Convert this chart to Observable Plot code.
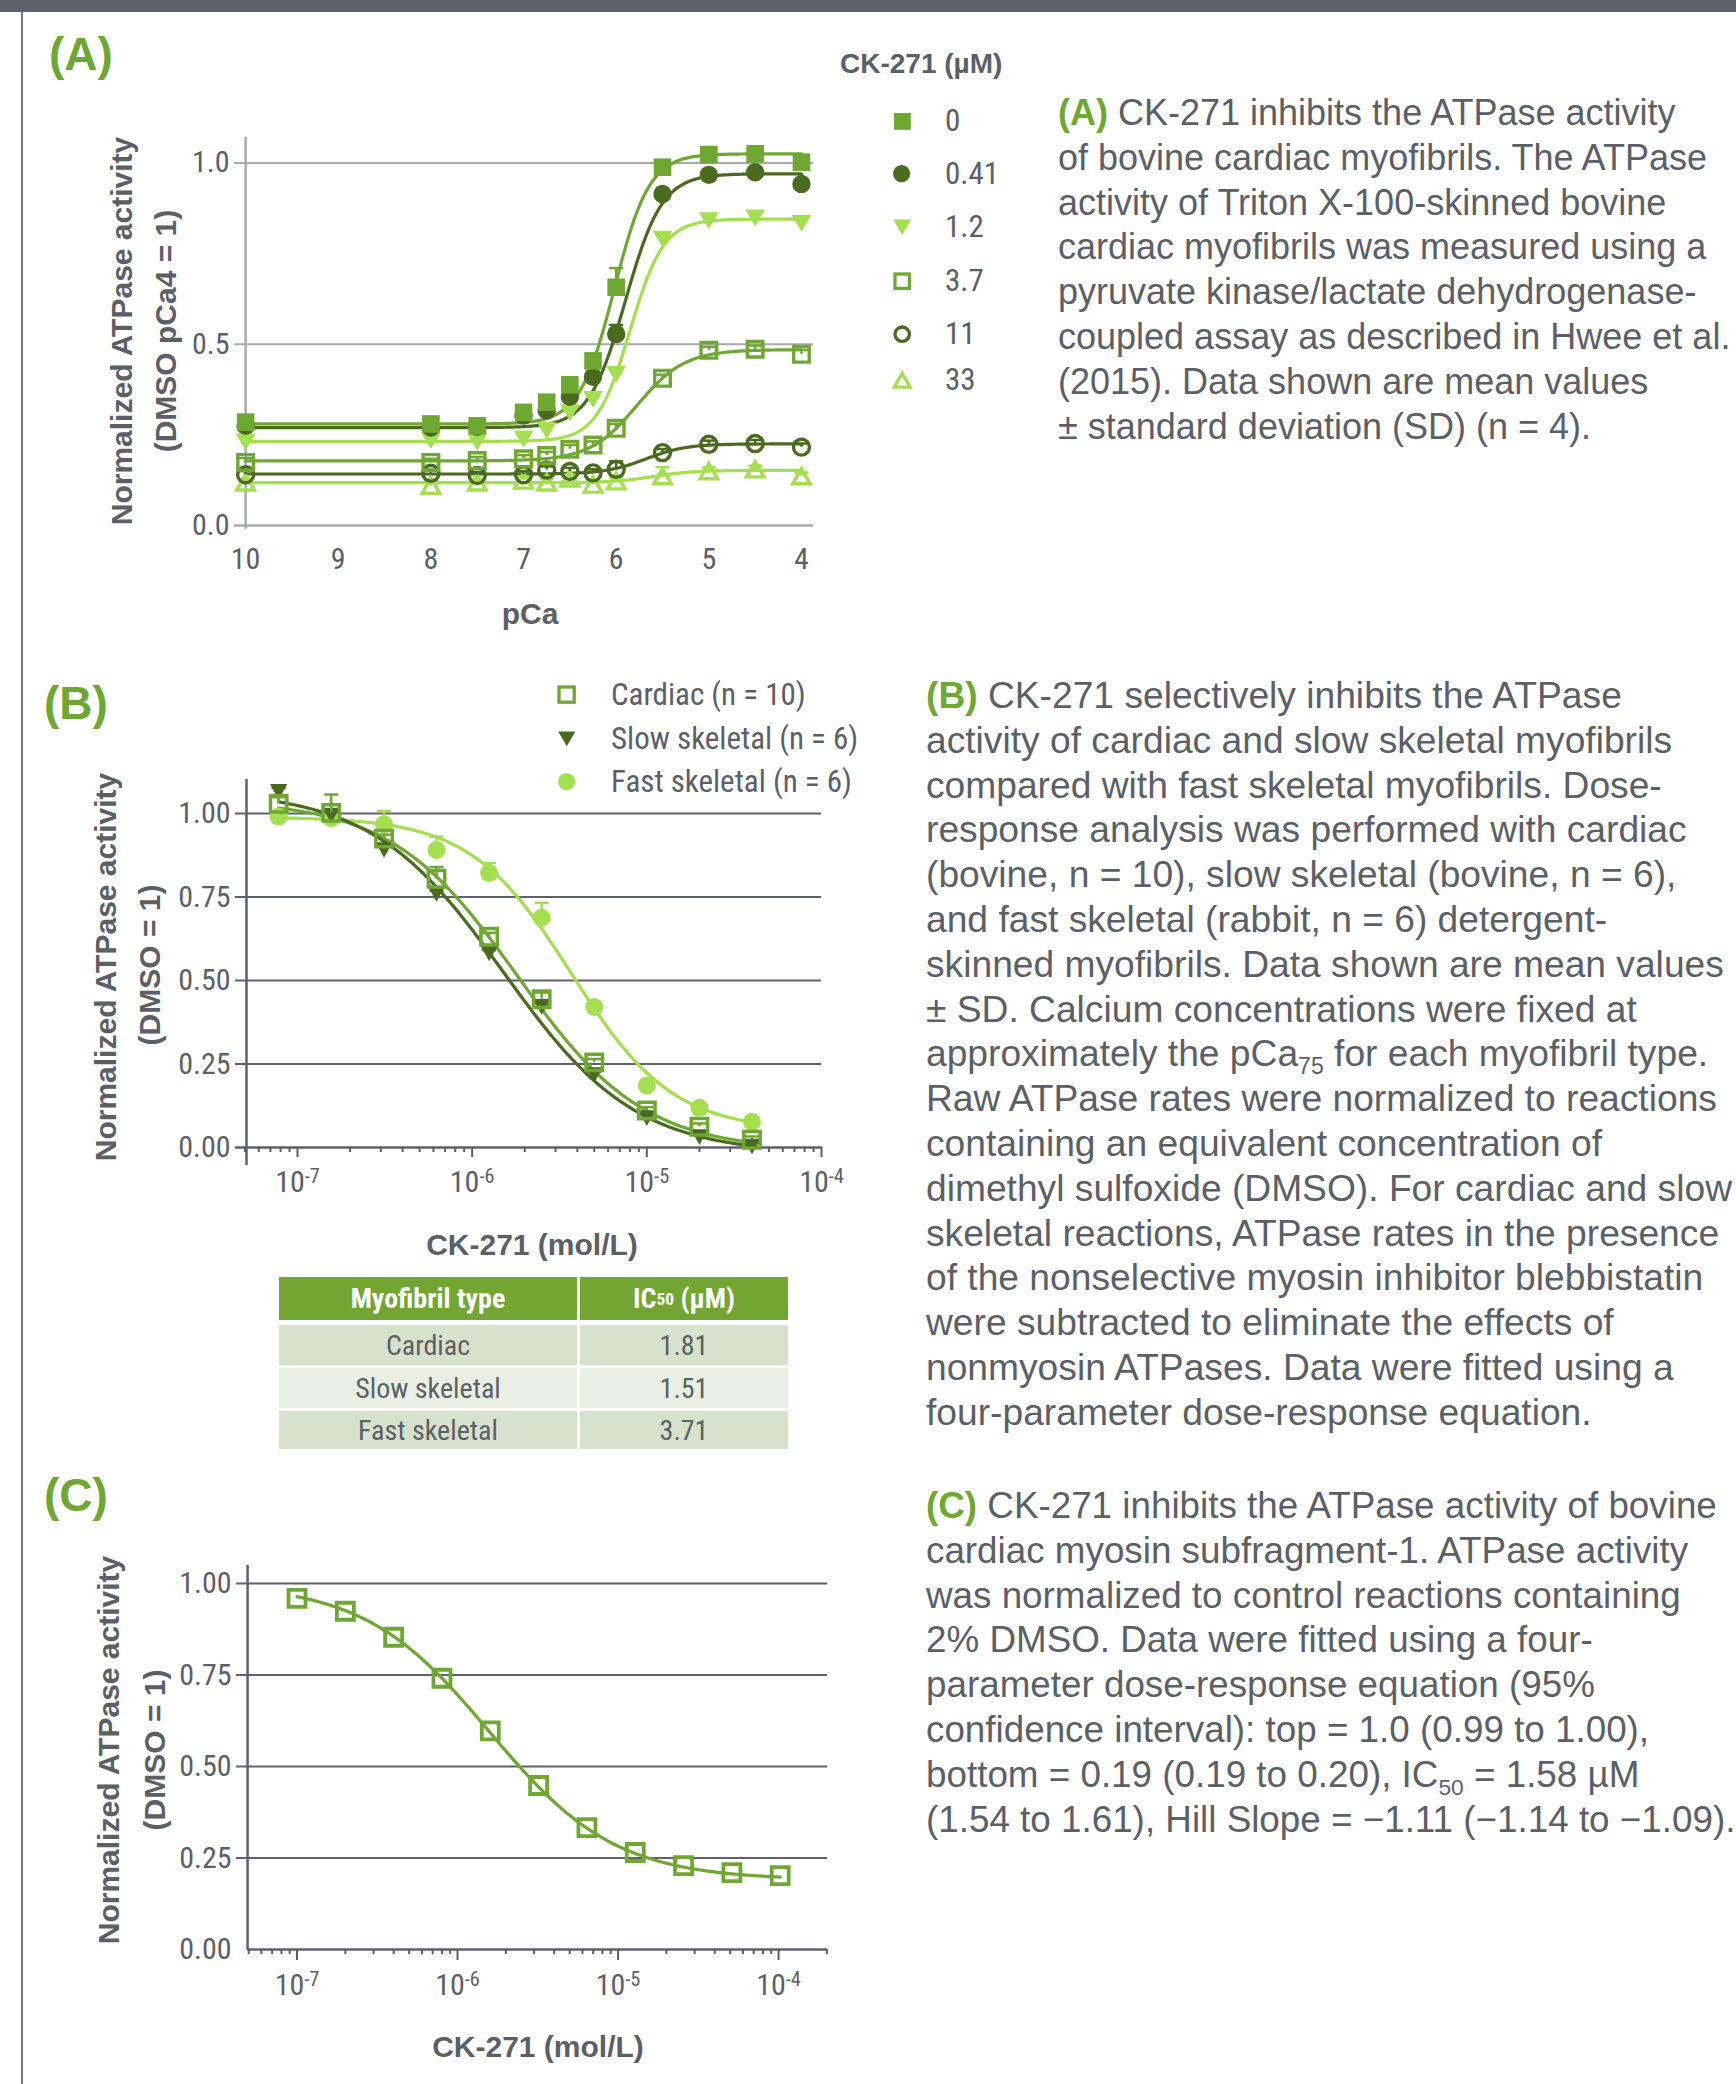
<!DOCTYPE html>
<html><head><meta charset="utf-8">
<script src="https://cdn.jsdelivr.net/npm/d3@7"></script>
<script src="https://cdn.jsdelivr.net/npm/@observablehq/plot@0.6"></script>
<style>
html,body{margin:0;padding:0;background:#fff;}
#page{position:relative;width:1736px;height:2084px;overflow:hidden;background:#fff;font-family:"Liberation Sans",Arial,sans-serif;color:#5c5f66;}
#page > div{position:absolute;}
.narrow{font-family:"Liberation Sans Narrow","Arial Narrow","Roboto Condensed",sans-serif;}
.cap{font-size:36px;line-height:44.8px;white-space:nowrap;}
.cap b{color:#6fa733;}
.plab{font-weight:bold;font-size:46px;line-height:46px;color:#6fa733;}
.atitle{font-weight:bold;font-size:30px;line-height:30px;text-align:center;white-space:nowrap;}
.cell{display:flex;align-items:center;justify-content:center;font-size:28px;white-space:nowrap;}
</style></head>
<body><div id="page"></div>
<script>
// ---------- data: panel A ----------
const pCa = [10, 8, 7.5, 7, 6.75, 6.5, 6.25, 6, 5.5, 5, 4.5, 4];
const concA = ["0", "0.41", "1.2", "3.7", "11", "33"];
const actA_0   = [0.285, 0.280, 0.275, 0.312, 0.340, 0.388, 0.454, 0.657, 0.988, 1.023, 1.025, 1.002];
const actA_041 = [0.275, 0.270, 0.272, 0.303, 0.317, 0.355, 0.410, 0.528, 0.914, 0.967, 0.974, 0.942];
const actA_12  = [0.230, 0.234, 0.230, 0.239, 0.262, 0.311, 0.348, 0.417, 0.790, 0.841, 0.848, 0.833];
const actA_37  = [0.174, 0.174, 0.179, 0.184, 0.193, 0.210, 0.222, 0.268, 0.406, 0.483, 0.486, 0.472];
const actA_11  = [0.140, 0.144, 0.138, 0.140, 0.153, 0.149, 0.145, 0.155, 0.201, 0.224, 0.226, 0.216];
const actA_33  = [0.119, 0.110, 0.119, 0.124, 0.119, 0.130, 0.113, 0.122, 0.136, 0.150, 0.155, 0.136];
const sdA_0    = [0.010, 0.012, 0.010, 0.012, 0.010, 0.015, 0.010, 0.053, 0.010, 0.008, 0.012, 0.010];
const sdA_041  = [0.010, 0.010, 0.010, 0.010, 0.010, 0.012, 0.012, 0.025, 0.010, 0.010, 0.010, 0.010];
const sdA_12   = [0.012, 0.012, 0.010, 0.010, 0.010, 0.010, 0.012, 0.015, 0.010, 0.010, 0.018, 0.010];
const sdA_37   = [0.012, 0.010, 0.010, 0.010, 0.010, 0.012, 0.010, 0.012, 0.010, 0.010, 0.010, 0.012];
const sdA_11   = [0.010, 0.010, 0.010, 0.010, 0.010, 0.010, 0.010, 0.022, 0.010, 0.010, 0.010, 0.010];
const sdA_33   = [0.010, 0.012, 0.010, 0.010, 0.010, 0.010, 0.010, 0.010, 0.025, 0.010, 0.010, 0.010];
// fitted Hill curve parameters
const fitA_pCa50  = [6.02, 5.90, 5.85, 5.774, 5.68, 5.60];
const fitA_hill   = [2.3, 2.2, 2.4, 1.69, 2.0, 2.0];
const fitA_bottom = [0.280, 0.270, 0.232, 0.178, 0.142, 0.118];
const fitA_top    = [1.025, 0.970, 0.845, 0.485, 0.225, 0.152];
const ticksA_x = [10, 9, 8, 7, 6, 5, 4];
const ticksA_y = [0, 0.5, 1.0];

// ---------- data: panel B ----------
const seriesB = ["Cardiac (n = 10)", "Slow skeletal (n = 6)", "Fast skeletal (n = 6)"];
const concB = [7.8e-8, 1.56e-7, 3.13e-7, 6.25e-7, 1.25e-6, 2.5e-6, 5e-6, 1e-5, 2e-5, 4e-5];
const cardiacB = [1.029, 1.002, 0.925, 0.805, 0.631, 0.444, 0.255, 0.111, 0.062, 0.023];
const slowB    = [1.065, 0.994, 0.891, 0.759, 0.581, 0.421, 0.217, 0.088, 0.031, 0.003];
const fastB    = [0.991, 0.986, 0.968, 0.891, 0.822, 0.688, 0.421, 0.186, 0.119, 0.077];
const sdCardiacB = [0.020, 0.055, 0.012, 0.035, 0.012, 0.020, 0.010, 0.010, 0.010, 0.010];
const sdSlowB    = [0.012, 0.010, 0.010, 0.010, 0.010, 0.010, 0.010, 0.010, 0.010, 0.010];
const sdFastB    = [0.010, 0.010, 0.040, 0.040, 0.030, 0.045, 0.010, 0.010, 0.010, 0.010];
const ic50B   = [1.81e-6, 1.51e-6, 3.71e-6];
const hillB   = [1.2, 1.15, 1.5];
const topB    = [1.04, 1.07, 0.99];
const bottomB = [-0.01, -0.02, 0.05];
const ticksB_y = [0, 0.25, 0.5, 0.75, 1.0];
const ticksLog = [1e-7, 1e-6, 1e-5, 1e-4];

// table
const tableTypes = ["Cardiac", "Slow skeletal", "Fast skeletal"];
const tableIC50 = ["1.81", "1.51", "3.71"];

// ---------- data: panel C ----------
const concC = [1e-7, 2e-7, 4e-7, 8e-7, 1.6e-6, 3.2e-6, 6.4e-6, 1.28e-5, 2.56e-5, 5.12e-5, 1.024e-4];
const actC  = [0.959, 0.924, 0.853, 0.741, 0.597, 0.448, 0.333, 0.265, 0.229, 0.210, 0.202];
const fitC_top = 1.0, fitC_bottom = 0.19, fitC_ic50 = 1.58e-6, fitC_hill = 1.11;

// ---------- styles ----------
const GRAY = "#5c5f66";
const MID = "#6fa733", DARK = "#4a6a1f", LIGHT = "#a3df4f";
const AXA = "#a8aaae", AXB = "#5f6268";
const NARROW = '"Liberation Sans Narrow","Arial Narrow","Roboto Condensed",sans-serif';

// symbols with fixed geometry (half-sizes in px)
const mkSquare = h => ({draw(c){c.rect(-h, -h, 2*h, 2*h);}});
const mkCircle = r => ({draw(c){c.moveTo(r, 0); c.arc(0, 0, r, 0, 2*Math.PI);}});
const mkTriDown = (w, h) => ({draw(c){c.moveTo(-w, -h); c.lineTo(w, -h); c.lineTo(0, h); c.closePath();}});
const mkTriUp = (w, h) => ({draw(c){c.moveTo(-w, h); c.lineTo(w, h); c.lineTo(0, -h); c.closePath();}});
const mkCap = w => ({draw(c){c.moveTo(-w, 0); c.lineTo(w, 0);}});
const capSym = mkCap(7);

const page = document.getElementById("page");
function add(html, css, cls){const d = document.createElement("div"); if (cls) d.className = cls; d.innerHTML = html; Object.assign(d.style, css); page.appendChild(d); return d;}
function place(node, left, top){const d = document.createElement("div"); d.style.left = left + "px"; d.style.top = top + "px"; d.appendChild(node); page.appendChild(d); return d;}
function supLabels(svg){
  svg.querySelectorAll('g[aria-label="x-axis tick label"] text').forEach(t => {
    const e = t.textContent; if (!e) return;
    t.textContent = "10";
    const ts = document.createElementNS("http://www.w3.org/2000/svg", "tspan");
    ts.setAttribute("dy", "-0.45em"); ts.setAttribute("font-size", "0.68em"); ts.textContent = e;
    t.appendChild(ts);
  });
}
function minorTicks(lo, hi){const out = []; for (let e = -9; e <= -3; e++) for (let k = 2; k <= 9; k++){const v = k * Math.pow(10, e); if (v >= lo && v <= hi) out.push(v);} return out;}
const plotStyle = {fontFamily: NARROW, fontSize: "30px", color: GRAY, background: "transparent", overflow: "visible"};

// ---------- frame ----------
add("", {left:"0px", top:"0px", width:"1736px", height:"12px", background:"#5e616a"});
add("", {left:"21px", top:"12px", width:"2px", height:"2072px", background:"#74777e"});
add("(A)", {left:"49px", top:"31px"}, "plab");
add("(B)", {left:"44px", top:"680px"}, "plab");
add("(C)", {left:"44px", top:"1472px"}, "plab");

// ---------- Panel A plot ----------
const actA = [actA_0, actA_041, actA_12, actA_37, actA_11, actA_33];
const sdA = [sdA_0, sdA_041, sdA_12, sdA_37, sdA_11, sdA_33];
const styleA = [
  {color: MID, sym: mkSquare(8.8), filled: true},
  {color: DARK, sym: mkCircle(9.2), filled: true},
  {color: LIGHT, sym: mkTriDown(9.8, 8.4), filled: true},
  {color: MID, sym: mkSquare(7.8), filled: false},
  {color: DARK, sym: mkCircle(8), filled: false},
  {color: LIGHT, sym: mkTriUp(8.8, 7.6), filled: false}
];
const hillA = (p, s) => fitA_bottom[s] + (fitA_top[s] - fitA_bottom[s]) / (1 + Math.pow(10, fitA_hill[s] * (p - fitA_pCa50[s])));
const gridA = d3.range(0, 301).map(i => pCa[0] - i * (pCa[0] - pCa[pCa.length - 1]) / 300);
const marksA = [];
concA.forEach((c, s) => {
  marksA.push(Plot.line(gridA.map(p => ({pCa: p, v: hillA(p, s)})), {x: "pCa", y: "v", stroke: styleA[s].color, strokeWidth: 3.2}));
});
const orderA = [5, 4, 3, 2, 1, 0];
orderA.forEach(s => {
  const st = styleA[s];
  const rows = pCa.map((p, i) => ({pCa: p, v: actA[s][i], sd: sdA[s][i]}));
  marksA.push(Plot.ruleX(rows, {x: "pCa", y1: "v", y2: d => d.v + d.sd, stroke: st.color, strokeWidth: 2.5}));
  marksA.push(Plot.dot(rows, {x: "pCa", y: d => d.v + d.sd, symbol: capSym, stroke: st.color, strokeWidth: 2.5}));
  marksA.push(Plot.dot(rows, st.filled
    ? {x: "pCa", y: "v", symbol: st.sym, fill: st.color, stroke: "none"}
    : {x: "pCa", y: "v", symbol: st.sym, fill: "none", stroke: st.color, strokeWidth: 3.4}));
});
const plotA = Plot.plot({
  width: 840, height: 500, marginLeft: 234, marginRight: 27, marginTop: 37, marginBottom: 75,
  style: plotStyle,
  x: {type: "linear", domain: [10.12, 3.87]},
  y: {domain: [0, 1.07]},
  marks: [
    Plot.ruleY([0.5, 1.0], {stroke: AXA, strokeWidth: 2}),
    Plot.ruleY([0], {stroke: AXA, strokeWidth: 2.5}),
    Plot.ruleX([pCa[0]], {y1: -0.01, y2: 1.07, stroke: AXA, strokeWidth: 2.5}),
    Plot.axisY(ticksA_y, {tickSize: 0, tickPadding: 5, tickFormat: d3.format(".1f"), fontSize: 30, label: null}),
    Plot.axisX(ticksA_x, {tickSize: 0, tickPadding: 22, tickFormat: d => String(d), fontSize: 30, label: null}),
    ...marksA
  ]
});
place(plotA, 0, 100);

// axis titles A
add("Normalized ATPase activity", {left: (122 - 250) + "px", top: (331 - 15) + "px", width: "500px", height: "30px", transform: "rotate(-90deg)"}, "atitle");
add("(DMSO pCa4 = 1)", {left: (166 - 250) + "px", top: (331 - 15) + "px", width: "500px", height: "30px", transform: "rotate(-90deg)"}, "atitle");
add("pCa", {left: (530 - 150) + "px", top: "599px", width: "300px", height: "30px"}, "atitle");

// legend A
function symSvg(kind, color, filled, half){
  const s = 2 * half + 8, c = s / 2; let path;
  if (kind === "square") path = `<rect x="${c-half}" y="${c-half}" width="${2*half}" height="${2*half}"/>`;
  else if (kind === "circle") path = `<circle cx="${c}" cy="${c}" r="${half}"/>`;
  else if (kind === "down") path = `<path d="M${c-half*1.1},${c-half*0.95}L${c+half*1.1},${c-half*0.95}L${c},${c+half*0.95}Z"/>`;
  else path = `<path d="M${c-half*1.1},${c+half*0.95}L${c+half*1.1},${c+half*0.95}L${c},${c-half*0.95}Z"/>`;
  const paint = filled ? `fill="${color}" stroke="none"` : `fill="none" stroke="${color}" stroke-width="3.3"`;
  return `<svg width="${s}" height="${s}" style="display:block"><g ${paint}>${path}</g></svg>`;
}
add("CK-271 (µM)", {left: "840px", top: "50px", fontWeight: "bold", fontSize: "28px", lineHeight: "28px", whiteSpace: "nowrap"});
const legA = [["square", true, 8.4], ["circle", true, 8.6], ["down", true, 8.2], ["square", false, 7.2], ["circle", false, 7.2], ["up", false, 7.2]];
const legAy = [121, 174, 227, 281, 334, 380];
concA.forEach((c, s) => {
  const [k, f, h] = legA[s]; const sz = 2 * h + 8;
  add(symSvg(k, styleA[s].color, f, h), {left: (902 - sz/2) + "px", top: (legAy[s] - sz/2) + "px"});
  add(c, {left: "945px", top: (legAy[s] - 16) + "px", fontSize: "31px", lineHeight: "31px", whiteSpace: "nowrap"}, "narrow");
});

// caption A
add(`<b>(A)</b> CK-271 inhibits the ATPase activity<br>of bovine cardiac myofibrils. The ATPase<br>activity of Triton X-100-skinned bovine<br>cardiac myofibrils was measured using a<br>pyruvate kinase/lactate dehydrogenase-<br>coupled assay as described in Hwee et al.<br>(2015). Data shown are mean values<br>± standard deviation (SD) (n = 4).`,
  {left: "1058px", top: "91px"}, "cap");

// ---------- Panel B plot ----------
const valsB = [cardiacB, slowB, fastB];
const sdB = [sdCardiacB, sdSlowB, sdFastB];
const styleB = [
  {color: MID, sym: mkSquare(8.2), filled: false},
  {color: DARK, sym: mkTriDown(8.6, 7.8), filled: true},
  {color: LIGHT, sym: mkCircle(9), filled: true}
];
const fitB = (x, s) => bottomB[s] + (topB[s] - bottomB[s]) / (1 + Math.pow(x / ic50B[s], hillB[s]));
const gridB = d3.range(0, 201).map(i => concB[0] * Math.pow(concB[concB.length - 1] / concB[0], i / 200));
const marksB = [];
[2, 0, 1].forEach(s => marksB.push(Plot.line(gridB.map(x => ({x, v: fitB(x, s)})), {x: "x", y: "v", stroke: styleB[s].color, strokeWidth: 3.2})));
[2, 1, 0].forEach(s => {
  const st = styleB[s];
  const rows = concB.map((x, i) => ({x, v: valsB[s][i], sd: sdB[s][i]}));
  marksB.push(Plot.ruleX(rows, {x: "x", y1: "v", y2: d => d.v + d.sd, stroke: st.color, strokeWidth: 2.5}));
  marksB.push(Plot.dot(rows, {x: "x", y: d => d.v + d.sd, symbol: capSym, stroke: st.color, strokeWidth: 2.5}));
  marksB.push(Plot.dot(rows, st.filled
    ? {x: "x", y: "v", symbol: st.sym, fill: st.color, stroke: "none"}
    : {x: "x", y: "v", symbol: st.sym, fill: "none", stroke: st.color, strokeWidth: 3.5}));
});
const domB = [Math.pow(10, -7.355), 1e-4];
const plotB = Plot.plot({
  width: 840, height: 460, marginLeft: 235, marginRight: 19, marginTop: 19, marginBottom: 73,
  style: plotStyle,
  x: {type: "log", domain: domB},
  y: {domain: [0, 1.102]},
  marks: [
    Plot.ruleY(ticksB_y.slice(1), {stroke: AXB, strokeWidth: 2}),
    Plot.ruleY([0], {stroke: AXB, strokeWidth: 2.5}),
    Plot.ruleX([Math.pow(10, -7.292)], {y1: -0.054, y2: 1.102, stroke: AXB, strokeWidth: 2.5}),
    Plot.axisY(ticksB_y, {tickSize: 0, tickPadding: 5, tickFormat: d3.format(".2f"), fontSize: 30, label: null}),
    Plot.axisX(minorTicks(domB[0], domB[1]), {tickSize: 5, strokeWidth: 2, tickFormat: () => "", label: null}),
    Plot.axisX(ticksLog, {tickSize: 10, strokeWidth: 2, tickPadding: 13, tickFormat: d => String(Math.round(Math.log10(d))), fontSize: 30, label: null}),
    ...marksB
  ]
});
supLabels(plotB);
place(plotB, 0, 760);
add("Normalized ATPase activity", {left: (106 - 250) + "px", top: (967 - 15) + "px", width: "500px", height: "30px", transform: "rotate(-90deg)"}, "atitle");
add("(DMSO = 1)", {left: (150 - 250) + "px", top: (965 - 15) + "px", width: "500px", height: "30px", transform: "rotate(-90deg)"}, "atitle");
add("CK-271 (mol/L)", {left: (532 - 200) + "px", top: "1230px", width: "400px", height: "30px"}, "atitle");

// legend B
const legB = [["square", false, 7.6], ["down", true, 7.8], ["circle", true, 8.6]];
const legBy = [695, 739, 782];
seriesB.forEach((n, s) => {
  const [k, f, h] = legB[s]; const sz = 2 * h + 8;
  add(symSvg(k, styleB[s].color, f, h), {left: (567 - sz/2) + "px", top: (legBy[s] - sz/2) + "px"});
  add(n, {left: "611px", top: (legBy[s] - 16) + "px", fontSize: "31px", lineHeight: "31px", whiteSpace: "nowrap"}, "narrow");
});

// table
add("Myofibril type", {left: "279px", top: "1277px", width: "298px", height: "43px", background: "#73a533", color: "#fff", fontWeight: "bold"}, "cell narrow");
add("IC<sub style='font-size:0.62em;vertical-align:-0.25em'>50</sub>&nbsp;(µM)", {left: "580px", top: "1277px", width: "208px", height: "43px", background: "#73a533", color: "#fff", fontWeight: "bold"}, "cell narrow");
const rowTop = [1325, 1368, 1411], rowH = [40, 40, 38], rowBg = ["#d6e2cb", "#e9f0e3", "#d6e2cb"];
tableTypes.forEach((t, i) => {
  add(t, {left: "279px", top: rowTop[i] + "px", width: "298px", height: rowH[i] + "px", background: rowBg[i]}, "cell narrow");
  add(tableIC50[i], {left: "580px", top: rowTop[i] + "px", width: "208px", height: rowH[i] + "px", background: rowBg[i]}, "cell narrow");
});

// caption B
add(`<b>(B)</b> CK-271 selectively inhibits the ATPase<br>activity of cardiac and slow skeletal myofibrils<br>compared with fast skeletal myofibrils. Dose-<br>response analysis was performed with cardiac<br>(bovine, n = 10), slow skeletal (bovine, n = 6),<br>and fast skeletal (rabbit, n = 6) detergent-<br>skinned myofibrils. Data shown are mean values<br>± SD. Calcium concentrations were fixed at<br>approximately the pCa<sub style="font-size:0.62em;line-height:0">75</sub> for each myofibril type.<br>Raw ATPase rates were normalized to reactions<br>containing an equivalent concentration of<br>dimethyl sulfoxide (DMSO). For cardiac and slow<br>skeletal reactions, ATPase rates in the presence<br>of the nonselective myosin inhibitor blebbistatin<br>were subtracted to eliminate the effects of<br>nonmyosin ATPases. Data were fitted using a<br>four-parameter dose-response equation.`,
  {left: "926px", top: "673px", fontSize: "37.2px"}, "cap");

// ---------- Panel C plot ----------
const fitC = x => fitC_bottom + (fitC_top - fitC_bottom) / (1 + Math.pow(x / fitC_ic50, fitC_hill));
const gridC = d3.range(0, 201).map(i => concC[0] * Math.pow(concC[concC.length - 1] / concC[0], i / 200));
const rowsC = concC.map((x, i) => ({x, v: actC[i]}));
const domC = [Math.pow(10, -7.377), Math.pow(10, -3.695)];
const yAxC = Math.pow(10, -7.308);
const plotC = Plot.plot({
  width: 840, height: 480, marginLeft: 236, marginRight: 13, marginTop: 25, marginBottom: 71,
  style: plotStyle,
  x: {type: "log", domain: domC},
  y: {domain: [0, 1.049]},
  marks: [
    Plot.ruleY(ticksB_y.slice(1), {stroke: AXB, strokeWidth: 2}),
    Plot.ruleY([0], {x1: yAxC, x2: domC[1], stroke: AXB, strokeWidth: 2.5}),
    Plot.ruleX([yAxC], {y1: 0, y2: 1.049, stroke: AXB, strokeWidth: 2.5}),
    Plot.axisY(ticksB_y, {tickSize: 0, tickPadding: 5, tickFormat: d3.format(".2f"), fontSize: 30, label: null}),
    Plot.axisX(minorTicks(yAxC, domC[1]), {tickSize: 5, strokeWidth: 2, tickFormat: () => "", label: null}),
    Plot.axisX(ticksLog, {tickSize: 11, strokeWidth: 2, tickPadding: 13, tickFormat: d => String(Math.round(Math.log10(d))), fontSize: 30, label: null}),
    Plot.line(gridC.map(x => ({x, v: fitC(x)})), {x: "x", y: "v", stroke: MID, strokeWidth: 3.2}),
    Plot.dot(rowsC, {x: "x", y: "v", symbol: mkSquare(8.5), fill: "none", stroke: MID, strokeWidth: 3.8})
  ]
});
supLabels(plotC);
place(plotC, 0, 1540);
add("Normalized ATPase activity", {left: (109 - 250) + "px", top: (1750 - 15) + "px", width: "500px", height: "30px", transform: "rotate(-90deg)"}, "atitle");
add("(DMSO = 1)", {left: (155 - 250) + "px", top: (1750 - 15) + "px", width: "500px", height: "30px", transform: "rotate(-90deg)"}, "atitle");
add("CK-271 (mol/L)", {left: (538 - 200) + "px", top: "2032px", width: "400px", height: "30px"}, "atitle");

// caption C
add(`<b>(C)</b> CK-271 inhibits the ATPase activity of bovine<br>cardiac myosin subfragment-1. ATPase activity<br>was normalized to control reactions containing<br>2% DMSO. Data were fitted using a four-<br>parameter dose-response equation (95%<br>confidence interval): top = 1.0 (0.99 to 1.00),<br>bottom = 0.19 (0.19 to 0.20), IC<sub style="font-size:0.62em;line-height:0">50</sub> = 1.58 µM<br>(1.54 to 1.61), Hill Slope = −1.11 (−1.14 to −1.09).`,
  {left: "926px", top: "1484px", fontSize: "36.8px"}, "cap");
</script>
</body></html>
